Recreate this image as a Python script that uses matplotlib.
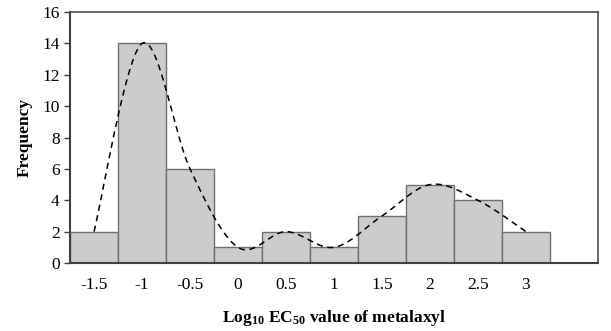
import matplotlib.pyplot as plt
import numpy as np

# histogram data
labels = ['-1.5', '-1', '-0.5', '0', '0.5', '1', '1.5', '2', '2.5', '3']
freq = [2, 14, 6, 1, 2, 1, 3, 5, 4, 2]

plt.rcParams['font.family'] = ['Liberation Serif', 'DejaVu Serif']
plt.rcParams['mathtext.fontset'] = 'custom'
plt.rcParams['mathtext.rm'] = 'Liberation Serif'
plt.rcParams['mathtext.bf'] = 'Liberation Serif:bold'
plt.rcParams['mathtext.it'] = 'Liberation Serif:italic'


def smooth_line(x, y, n=40):
    # Excel-like smoothed line (Catmull-Rom through the points)
    x = np.asarray(x, float)
    y = np.asarray(y, float)
    px = np.concatenate([[x[0]], x, [x[-1]]])
    py = np.concatenate([[y[0]], y, [y[-1]]])
    xs, ys = [], []
    t = np.linspace(0, 1, n)
    for i in range(1, len(px) - 2):
        p0, p1, p2, p3 = (np.array([px[j], py[j]]) for j in range(i - 1, i + 3))
        c1 = p1 + (p2 - p0) / 6
        c2 = p2 - (p3 - p1) / 6
        b = ((1 - t) ** 3)[:, None] * p1 + (3 * (1 - t) ** 2 * t)[:, None] * c1 \
            + (3 * (1 - t) * t ** 2)[:, None] * c2 + (t ** 3)[:, None] * p2
        xs.extend(b[:, 0])
        ys.extend(b[:, 1])
    return np.array(xs), np.array(ys)


fig = plt.figure(figsize=(6.11, 3.31), dpi=100)
ax = fig.add_axes([0.1146, 0.2054, 0.8641, 0.7583])

pos = np.arange(len(freq))
ax.bar(pos, freq, width=1.0, color='#cccccc', edgecolor='#707070', linewidth=1.0, zorder=2)

sx, sy = smooth_line(pos, freq)
ax.plot(sx, sy, color='black', linestyle=(0, (4, 3)), linewidth=1.1, zorder=3)

ax.set_xlim(-0.5, 10.5)
ax.set_ylim(0, 16)
ax.set_yticks(np.arange(0, 17, 2))
ax.set_xticks(pos)
ax.set_xticklabels(labels)

ax.tick_params(axis='x', length=0, pad=10, labelsize=12.5)
ax.tick_params(axis='y', direction='out', length=4, width=1, labelsize=12.5, color='#404040')

for s in ['left', 'bottom']:
    ax.spines[s].set_color('#404040')
    ax.spines[s].set_linewidth(1.5)
for s in ['top', 'right']:
    ax.spines[s].set_color('#505050')
    ax.spines[s].set_linewidth(1.2)

ax.set_ylabel('Frequency', fontsize=12.5, fontweight='bold', labelpad=7)
ax.set_xlabel(r'Log$_{\mathbf{10}}$ EC$_{\mathbf{50}}$ value of metalaxyl',
              fontsize=12.5, fontweight='bold', labelpad=11)

fig.savefig('out.png', dpi=100)
